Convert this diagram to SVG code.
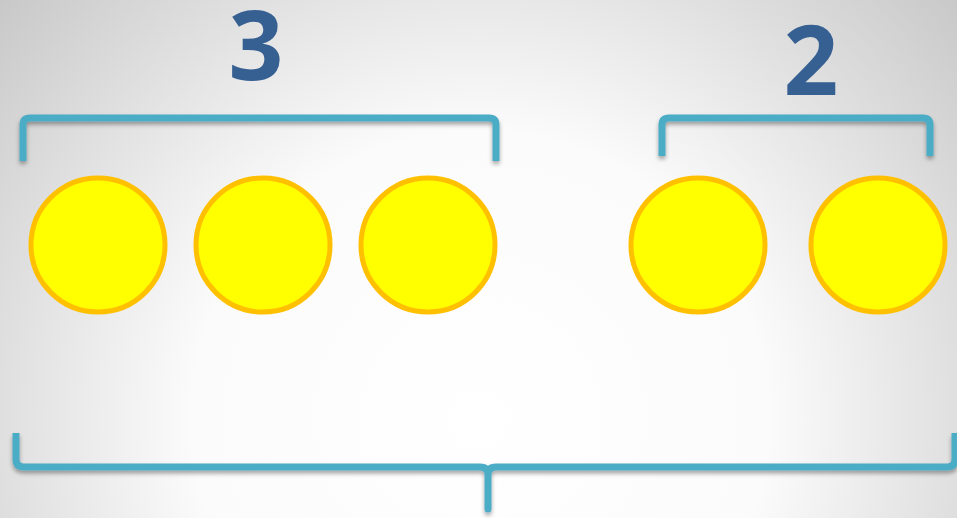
<svg xmlns="http://www.w3.org/2000/svg" width="957" height="518" viewBox="0 0 957 518">
<style>
.brace{fill:none;stroke:#4BACC6;stroke-width:7;stroke-linejoin:round;filter:url(#sh)}
.dot{fill:#FFFF00;stroke:#FFC000;stroke-width:5}
.num{font-family:"Open Sans","Liberation Sans",sans-serif;font-weight:bold;font-size:96px;fill:#376092;text-anchor:middle}
</style>
<defs>
<radialGradient id="bg" cx="480" cy="420" r="640" gradientUnits="userSpaceOnUse">
<stop offset="0" stop-color="#ffffff"/>
<stop offset="0.45" stop-color="#fbfbfb"/>
<stop offset="1" stop-color="#c8c8c8"/>
</radialGradient>
<filter id="sh" x="-5%" y="-20%" width="110%" height="150%">
<feDropShadow dx="0" dy="3" stdDeviation="2" flood-color="#000" flood-opacity="0.35"/>
</filter>
</defs>
<rect width="957" height="518" fill="url(#bg)"/>
<g id="label3"><text class="num" x="256" y="80">3</text></g>
<g id="label2"><text class="num" x="811" y="95">2</text></g>
<g id="connectors">
<path class="brace" d="M23,161 V125 Q23,118 30,118 H489 Q496,118 496,125 V161"/>
<path class="brace" d="M662,156 V125 Q662,118 669,118 H923 Q930,118 930,125 V156"/>
<path class="brace" d="M16,433 V459 Q16,467 24,467 H480 Q488,467 488,475 V509 V475 Q488,467 496,467 H947 Q955,467 955,459 V433"/>
</g>
<g id="c1"><circle class="dot" cx="98" cy="245" r="67"/></g>
<g id="c2"><circle class="dot" cx="263" cy="245" r="67"/></g>
<g id="c3"><circle class="dot" cx="428" cy="245" r="67"/></g>
<g id="c4"><circle class="dot" cx="698" cy="245" r="67"/></g>
<g id="c5"><circle class="dot" cx="878" cy="245" r="67"/></g>
</svg>
